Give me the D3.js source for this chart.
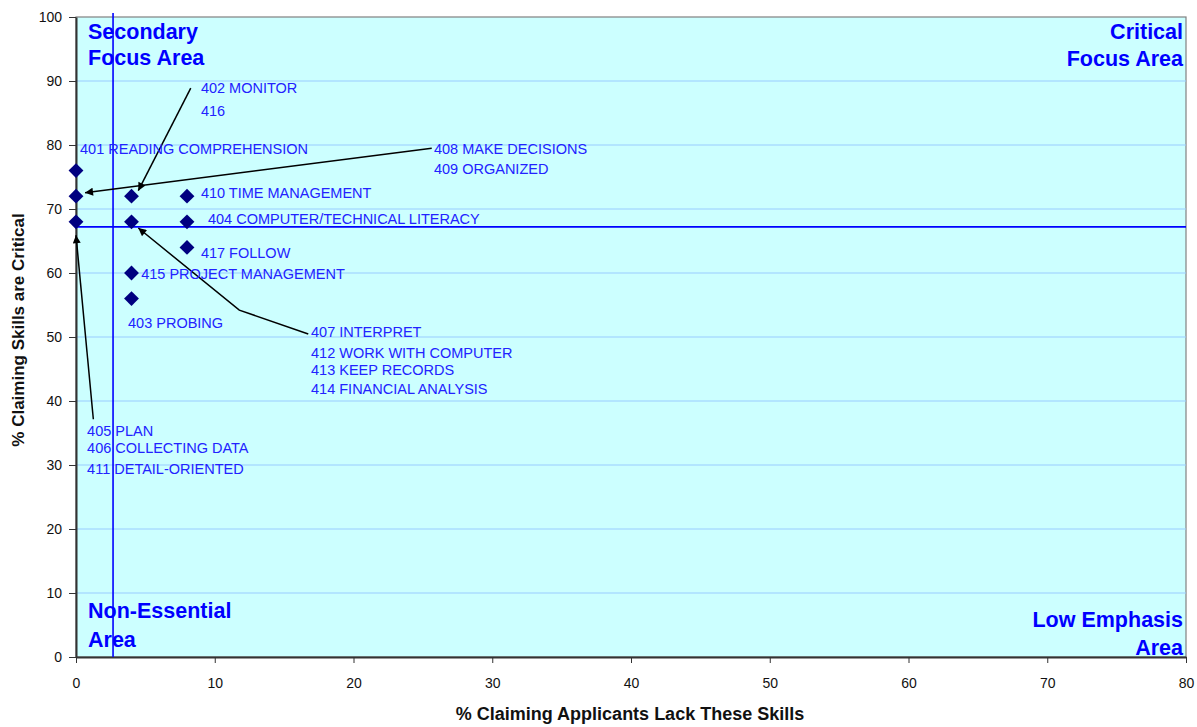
<!DOCTYPE html>
<html><head><meta charset="utf-8">
<script src="https://cdn.jsdelivr.net/npm/d3@7"></script>
<style>body{margin:0;background:#fff;font-family:Arial,"Liberation Sans",sans-serif}</style>
</head><body><svg id="c" width="1197" height="727"></svg>
<script>
// Data
const pointsX = [0, 0, 0, 4, 4, 8, 8, 8, 4, 4];
const pointsY = [76, 72, 68, 72, 68, 72, 68, 64, 60, 56];
const meanX = 2.67;
const meanY = 67.2;
const xTicks = [0, 10, 20, 30, 40, 50, 60, 70, 80];
const yTicks = [0, 10, 20, 30, 40, 50, 60, 70, 80, 90, 100];
const labelText = ["401 READING COMPREHENSION","402 MONITOR","416","408 MAKE DECISIONS","409 ORGANIZED",
  "410 TIME MANAGEMENT","404 COMPUTER/TECHNICAL LITERACY","417 FOLLOW","415 PROJECT MANAGEMENT","403 PROBING",
  "407 INTERPRET","412 WORK WITH COMPUTER","413 KEEP RECORDS","414 FINANCIAL ANALYSIS",
  "405 PLAN","406 COLLECTING DATA","411 DETAIL-ORIENTED"];
const labelX = [0.29, 9.0, 9.0, 25.8, 25.8, 9.0, 9.51, 9.0, 4.7, 3.75, 16.94, 16.94, 16.94, 16.94, 0.8, 0.8, 0.8];
const labelY = [79.4, 88.98, 85.3, 79.4, 76.25, 72.5, 68.5, 63.2, 59.8, 52.2, 50.86, 47.5, 44.84, 41.95, 35.39, 32.73, 29.375];
const arrows = [
  [[8.27, 88.9], [4.49, 72.86]],
  [[25.64, 79.5], [0.65, 72.55]],
  [[1.25, 37.14], [0, 65.9]],
  [[16.74, 50.47], [11.77, 54.2], [4.49, 67.03]]
];

const svg = d3.select("#c");
const L = 76, R = 1186, T = 17, B = 657;
const x = d3.scaleLinear().domain([0, 80]).range([L, R]);
const y = d3.scaleLinear().domain([0, 100]).range([B, T]);

svg.append("defs").append("marker").attr("id","ah").attr("viewBox","0 0 10 10")
  .attr("refX",10).attr("refY",5).attr("markerWidth",12).attr("markerHeight",8)
  .attr("markerUnits","userSpaceOnUse").attr("orient","auto")
  .append("path").attr("d","M0,0L10,5L0,10Z").attr("fill","#000");

svg.append("rect").attr("x",L).attr("y",T).attr("width",R-L).attr("height",B-T)
  .attr("fill","#CCFFFF").attr("stroke","#808080").attr("stroke-width",1.2);

// gridlines
svg.append("g").selectAll("line").data(yTicks.filter(d=>d>0&&d<100)).join("line")
  .attr("x1",L).attr("x2",R).attr("y1",d=>y(d)).attr("y2",d=>y(d))
  .attr("stroke","#99CCFF").attr("stroke-width",1);

// axes
const gx = svg.append("g").attr("transform",`translate(0,${B})`)
  .call(d3.axisBottom(x).tickValues(xTicks).tickSize(6).tickSizeOuter(0).tickPadding(15));
const gy = svg.append("g").attr("transform",`translate(${L},0)`)
  .call(d3.axisLeft(y).tickValues(yTicks).tickSize(7).tickSizeOuter(0).tickPadding(7));
[gx, gy].forEach(g=>{
  g.selectAll("path").attr("stroke","#333").attr("stroke-width",2);
  g.selectAll("line").attr("stroke","#333");
  g.selectAll("text").attr("font-size",14).attr("fill","#111").attr("font-family","Arial, Liberation Sans, sans-serif");
});

// quadrant lines
svg.append("line").attr("x1",x(meanX)).attr("x2",x(meanX)).attr("y1",13).attr("y2",B)
  .attr("stroke","#0000FF").attr("stroke-width",1.6);
svg.append("line").attr("x1",L).attr("x2",R).attr("y1",y(meanY)).attr("y2",y(meanY))
  .attr("stroke","#0000FF").attr("stroke-width",1.6);

// quadrant titles
const qt = [
  {t:["Secondary","Focus Area"], x:88, y:[38.5,65], a:"start"},
  {t:["Critical","Focus Area"], x:1183, y:[39,66], a:"end"},
  {t:["Non-Essential","Area"], x:88, y:[618,647], a:"start"},
  {t:["Low Emphasis","Area"], x:1183, y:[627,655], a:"end"}
];
qt.forEach(q=>q.t.forEach((s,i)=>svg.append("text").attr("x",q.x).attr("y",q.y[i])
  .attr("text-anchor",q.a).attr("font-size",21.5).attr("font-weight","bold").attr("fill","#0000FF").text(s)));

// arrows
const line = d3.line().x(d=>x(d[0])).y(d=>y(d[1]));
svg.append("g").selectAll("path").data(arrows).join("path")
  .attr("d",line).attr("fill","none").attr("stroke","#000").attr("stroke-width",1.5)
  .attr("marker-end","url(#ah)");

// points
svg.append("g").selectAll("path").data(pointsX.map((d,i)=>[d,pointsY[i]])).join("path")
  .attr("d",d3.symbol(d3.symbolSquare,110))
  .attr("transform",d=>`translate(${x(d[0])},${y(d[1])}) rotate(45)`)
  .attr("fill","#000080");

// labels
svg.append("g").selectAll("text").data(labelText).join("text")
  .attr("x",(d,i)=>x(labelX[i])).attr("y",(d,i)=>y(labelY[i])).attr("dy","0.35em")
  .attr("font-size",14.5).attr("fill","#2222FF").text(d=>d);

// axis titles
svg.append("text").attr("x",630).attr("y",720).attr("text-anchor","middle")
  .attr("font-size",18).attr("font-weight","bold").attr("fill","#111").text("% Claiming Applicants Lack These Skills");
svg.append("text").attr("transform","translate(24,330) rotate(-90)").attr("text-anchor","middle")
  .attr("font-size",17).attr("font-weight","bold").attr("fill","#111").text("% Claiming Skills are Critical");
</script></body></html>
